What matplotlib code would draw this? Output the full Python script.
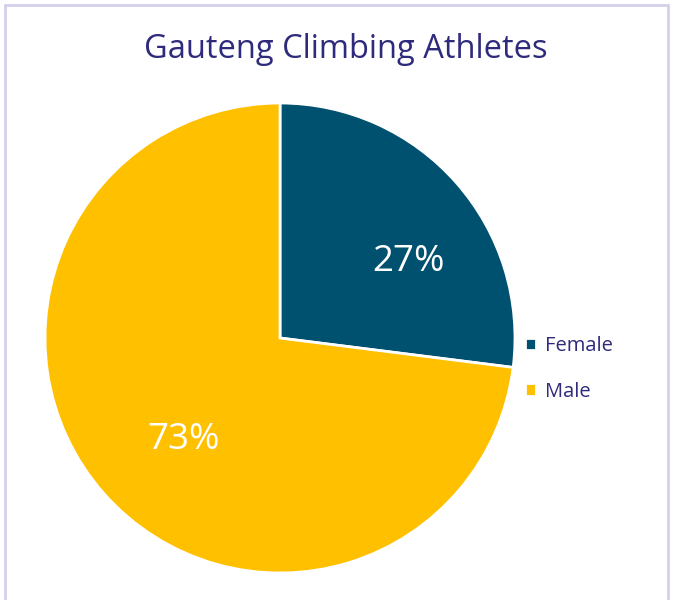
import matplotlib.pyplot as plt
from matplotlib.patches import Rectangle

# data
labels = ["Female", "Male"]
shares = [27, 73]
colors = ["#00506F", "#FFC000"]
title = "Gauteng Climbing Athletes"
text_color = "#2E2A7C"

W, H = 679, 600
fig = plt.figure(figsize=(W / 100, H / 100), dpi=100)
plt.rcParams['font.family'] = ['Open Sans', 'DejaVu Sans']

# light frame round the chart area
fig.patches.append(Rectangle((4.5 / W, -0.05), (668 - 4.5) / W, 1.05 - 4.5 / H,
                             transform=fig.transFigure, fill=False,
                             edgecolor="#D4D0EC", linewidth=2))

# pie axes: centre ~ (280, 338) px, radius ~235 px
r, cx, cy = 235, 280, 338
ax = fig.add_axes([(cx - r) / W, (H - cy - r) / H, 2 * r / W, 2 * r / H])
wedges, _ = ax.pie(shares, colors=colors, startangle=90, counterclock=False,
                   wedgeprops=dict(edgecolor="white", linewidth=2))
ax.set_xlim(-1, 1)
ax.set_ylim(-1, 1)
ax.set_aspect("auto")

ax.text(0.545, 0.325, f"{shares[0]}%", color="white", fontsize=26.5,
        ha="center", va="center")
ax.text(-0.41, -0.435, f"{shares[1]}%", color="white", fontsize=26.5,
        ha="center", va="center")

fig.text(346 / W, 1 - 49 / H, title, color=text_color, fontsize=23.5,
         ha="center", va="center")

fig.legend(wedges, labels, loc="center left", bbox_to_anchor=(515 / W, 1 - 369 / H),
           frameon=False, fontsize=14.5, labelcolor=text_color,
           handlelength=0.55, handleheight=0.55, handletextpad=0.45,
           labelspacing=1.25, borderpad=0)

fig.savefig("out.png", dpi=100, facecolor="white")
